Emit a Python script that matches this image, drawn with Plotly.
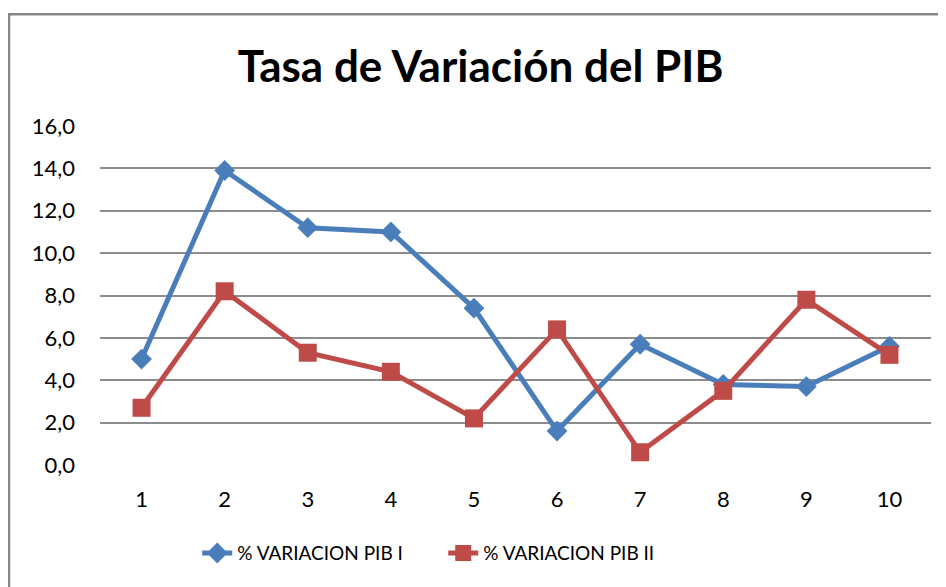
import plotly.graph_objects as go

categories = ["1", "2", "3", "4", "5", "6", "7", "8", "9", "10"]
pib_i = [5.0, 13.9, 11.2, 11.0, 7.4, 1.6, 5.7, 3.8, 3.7, 5.6]
pib_ii = [2.7, 8.2, 5.3, 4.4, 2.2, 6.4, 0.6, 3.5, 7.8, 5.2]
y_ticks = [0, 2, 4, 6, 8, 10, 12, 14, 16]
y_labels = ["0,0", "2,0", "4,0", "6,0", "8,0", "10,0", "12,0", "14,0", "16,0"]

FONT = "Lato"
BLUE = "#4a7ebb"
RED = "#be4b48"

fig = go.Figure()
fig.add_trace(go.Scatter(
    x=categories, y=pib_i, mode="lines+markers", name="% VARIACION PIB I",
    line=dict(color=BLUE, width=5),
    marker=dict(symbol="diamond", size=16, color=BLUE),
))
fig.add_trace(go.Scatter(
    x=categories, y=pib_ii, mode="lines+markers", name="% VARIACION PIB II",
    line=dict(color=RED, width=5),
    marker=dict(symbol="square", size=18, color=RED),
))

fig.update_layout(
    width=946, height=587,
    margin=dict(l=92, r=23, t=118, b=130),
    paper_bgcolor="white", plot_bgcolor="white",
    font=dict(family=FONT, size=22, color="black"),
    title=dict(text="<b>Tasa de Variación del PIB</b>", x=0.4995, xanchor="center",
               y=0.90, yanchor="middle", font=dict(family=FONT, size=44, color="black")),
    showlegend=True,
    legend=dict(orientation="h", x=0.117, xanchor="left", y=-0.26, yanchor="middle",
                font=dict(family=FONT, size=19), entrywidth=201, entrywidthmode="pixels"),
    xaxis=dict(type="category", showgrid=False, zeroline=False, showline=False,
               ticks="", range=[-0.5, 9.5], tickfont=dict(size=22), ticklabelstandoff=19),
    yaxis=dict(range=[0, 16], tickvals=y_ticks, ticktext=y_labels, showgrid=True,
               gridcolor="#8c8c8c", gridwidth=1.5, zeroline=False, showline=False,
               ticks="", ticklabelstandoff=24, tickfont=dict(size=22)),
    shapes=[dict(type="rect", xref="paper", yref="paper", x0=-0.1095, x1=1.2,
                 y0=-0.6, y1=1.330, line=dict(color="#868686", width=2.5),
                 fillcolor="rgba(0,0,0,0)", layer="below")],
)

fig.write_html("out.html")
